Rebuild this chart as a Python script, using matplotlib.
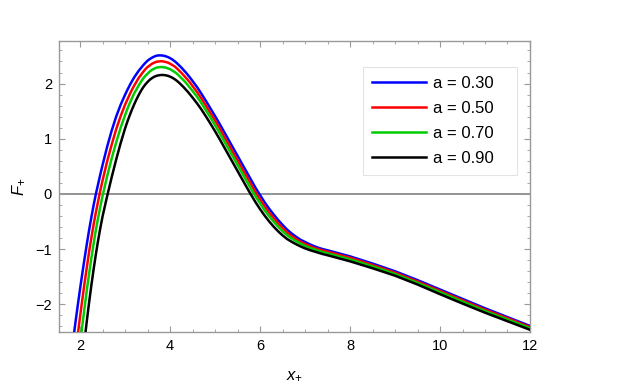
import numpy as np
import matplotlib.pyplot as plt
from matplotlib.ticker import MultipleLocator

plt.rcParams['font.family'] = ['Liberation Sans', 'DejaVu Sans']
plt.rcParams['mathtext.fontset'] = 'custom'
plt.rcParams['mathtext.rm'] = 'Liberation Sans'
plt.rcParams['mathtext.it'] = 'Liberation Sans:italic'

nan = np.nan

x_plus = [1.85, 1.90, 1.95, 2.00, 2.05, 2.10, 2.15, 2.20, 2.25, 2.30,
          2.35, 2.40, 2.45, 2.50, 2.60, 2.70, 2.80, 2.90,
          3.00, 3.05, 3.10, 3.15, 3.20, 3.25, 3.30, 3.35, 3.40, 3.45,
          3.50, 3.55, 3.60, 3.65, 3.70, 3.75, 3.80, 3.85, 3.90, 3.95,
          4.00, 4.05, 4.10, 4.15, 4.20, 4.25, 4.30, 4.35, 4.40, 4.45,
          4.50, 4.60, 4.70, 4.80, 4.90, 5.00, 5.10, 5.20, 5.30, 5.40,
          5.50, 5.60, 5.70, 5.80, 5.90, 6.00, 6.10, 6.20, 6.30, 6.40,
          6.50, 6.60, 6.70, 6.80, 6.90, 7.00, 7.10, 7.20, 7.30, 7.40,
          7.50, 7.75, 8.00, 8.50, 9.00, 9.50, 10.00, 10.50, 11.00, 11.50,
          12.00]

F_a030 = [-2.61, -2.30, -2.00, -1.71, -1.43, -1.16, -0.90, -0.65, -0.42, -0.20,
          0.00, 0.18, 0.36, 0.53, 0.855, 1.145, 1.40, 1.615,
          1.80, 1.885, 1.965, 2.04, 2.11, 2.17, 2.23, 2.28, 2.33, 2.375,
          2.415, 2.445, 2.47, 2.49, 2.505, 2.51, 2.51, 2.505, 2.495, 2.48,
          2.46, 2.435, 2.405, 2.37, 2.33, 2.29, 2.245, 2.20, 2.15, 2.10,
          2.045, 1.935, 1.81, 1.68, 1.545, 1.41, 1.27, 1.125, 0.98, 0.835,
          0.69, 0.545, 0.40, 0.255, 0.11, -0.02, -0.15, -0.265, -0.37, -0.47,
          -0.56, -0.645, -0.715, -0.775, -0.83, -0.87, -0.91, -0.945, -0.975, -1.00,
          -1.02, -1.075, -1.13, -1.26, -1.40, -1.56, -1.73, -1.90, -2.07, -2.23,
          -2.39]

F_a050 = [nan, -2.86, -2.53, -2.21, -1.90, -1.60, -1.32, -1.04, -0.79, -0.55,
          -0.33, -0.13, 0.07, 0.25, 0.59, 0.89, 1.17, 1.41,
          1.62, 1.71, 1.80, 1.885, 1.96, 2.03, 2.10, 2.155, 2.21, 2.26,
          2.30, 2.33, 2.36, 2.38, 2.395, 2.40, 2.405, 2.40, 2.39, 2.38,
          2.36, 2.335, 2.31, 2.275, 2.235, 2.195, 2.15, 2.105, 2.06, 2.01,
          1.955, 1.845, 1.725, 1.595, 1.46, 1.33, 1.19, 1.04, 0.90, 0.75,
          0.61, 0.46, 0.32, 0.175, 0.03, -0.10, -0.22, -0.335, -0.435, -0.53,
          -0.615, -0.695, -0.76, -0.815, -0.865, -0.905, -0.94, -0.975, -1.00, -1.025,
          -1.045, -1.10, -1.155, -1.285, -1.425, -1.585, -1.755, -1.925, -2.095, -2.25,
          -2.41]

F_a070 = [nan, nan, -3.05, -2.70, -2.37, -2.05, -1.73, -1.44, -1.16, -0.90,
          -0.65, -0.43, -0.22, -0.03, 0.32, 0.64, 0.93, 1.20,
          1.43, 1.54, 1.64, 1.73, 1.82, 1.89, 1.965, 2.03, 2.09, 2.14,
          2.18, 2.22, 2.25, 2.27, 2.29, 2.295, 2.30, 2.295, 2.29, 2.275,
          2.26, 2.235, 2.21, 2.18, 2.14, 2.10, 2.06, 2.015, 1.965, 1.915,
          1.865, 1.76, 1.64, 1.51, 1.38, 1.245, 1.105, 0.96, 0.815, 0.67,
          0.525, 0.38, 0.235, 0.09, -0.045, -0.17, -0.295, -0.40, -0.50, -0.59,
          -0.675, -0.745, -0.805, -0.855, -0.90, -0.94, -0.975, -1.00, -1.03, -1.055,
          -1.075, -1.13, -1.185, -1.31, -1.45, -1.61, -1.78, -1.95, -2.12, -2.275,
          -2.43]

F_a090 = [nan, nan, nan, nan, -2.99, -2.64, -2.29, -1.96, -1.65, -1.36,
          -1.09, -0.84, -0.61, -0.40, -0.04, 0.30, 0.62, 0.92,
          1.19, 1.31, 1.42, 1.525, 1.62, 1.71, 1.79, 1.865, 1.93, 1.985,
          2.03, 2.07, 2.10, 2.125, 2.14, 2.15, 2.155, 2.155, 2.15, 2.14,
          2.125, 2.105, 2.08, 2.05, 2.015, 1.975, 1.935, 1.89, 1.845, 1.795,
          1.745, 1.64, 1.525, 1.40, 1.27, 1.135, 0.995, 0.85, 0.705, 0.56,
          0.415, 0.27, 0.125, -0.015, -0.15, -0.275, -0.39, -0.495, -0.59, -0.675,
          -0.75, -0.815, -0.865, -0.91, -0.95, -0.985, -1.015, -1.04, -1.065, -1.09,
          -1.11, -1.165, -1.22, -1.345, -1.48, -1.64, -1.815, -1.985, -2.15, -2.305,
          -2.46]

labels = ['a = 0.30   ', 'a = 0.50   ', 'a = 0.70   ', 'a = 0.90   ']
colors = ['#0000ff', '#ff0000', '#00cc00', '#000000']

fig = plt.figure(figsize=(6.23, 3.89), dpi=100)
ax = fig.add_axes([0.0947, 0.1465, 0.756, 0.748])

ax.axhline(0, color='#808080', lw=1.2, zorder=1)

for F, lab, c in zip([F_a030, F_a050, F_a070, F_a090], labels, colors):
    ax.plot(x_plus, F, color=c, lw=1.8, label=lab, zorder=3)

ax.set_xlim(1.53, 12)
ax.set_ylim(-2.5, 2.77)

ax.xaxis.set_major_locator(MultipleLocator(2))
ax.xaxis.set_minor_locator(MultipleLocator(0.5))
ax.yaxis.set_major_locator(MultipleLocator(1))
ax.yaxis.set_minor_locator(MultipleLocator(0.2))

frame_col = '#999999'
for s in ax.spines.values():
    s.set_color(frame_col)
    s.set_linewidth(1.0)
ax.tick_params(which='both', direction='in', top=True, right=True,
               color=frame_col, labelsize=10.5, labelcolor='black')
ax.tick_params(which='major', length=4.5, width=0.8, pad=5)
ax.tick_params(which='minor', length=2.5, width=0.6)

ax.set_xlabel(r'$x_{+}$', fontsize=12, labelpad=11)
ax.set_ylabel(r'$F_{+}$', fontsize=12, labelpad=6)

leg = ax.legend(loc='upper left', bbox_to_anchor=(0.645, 0.912), fontsize=12,
                frameon=True, fancybox=False, edgecolor='#dddddd',
                handlelength=3.25, handletextpad=0.4, labelspacing=0.6,
                borderpad=0.55, borderaxespad=0)
leg.get_frame().set_linewidth(0.8)

fig.savefig('out.png', dpi=100)
